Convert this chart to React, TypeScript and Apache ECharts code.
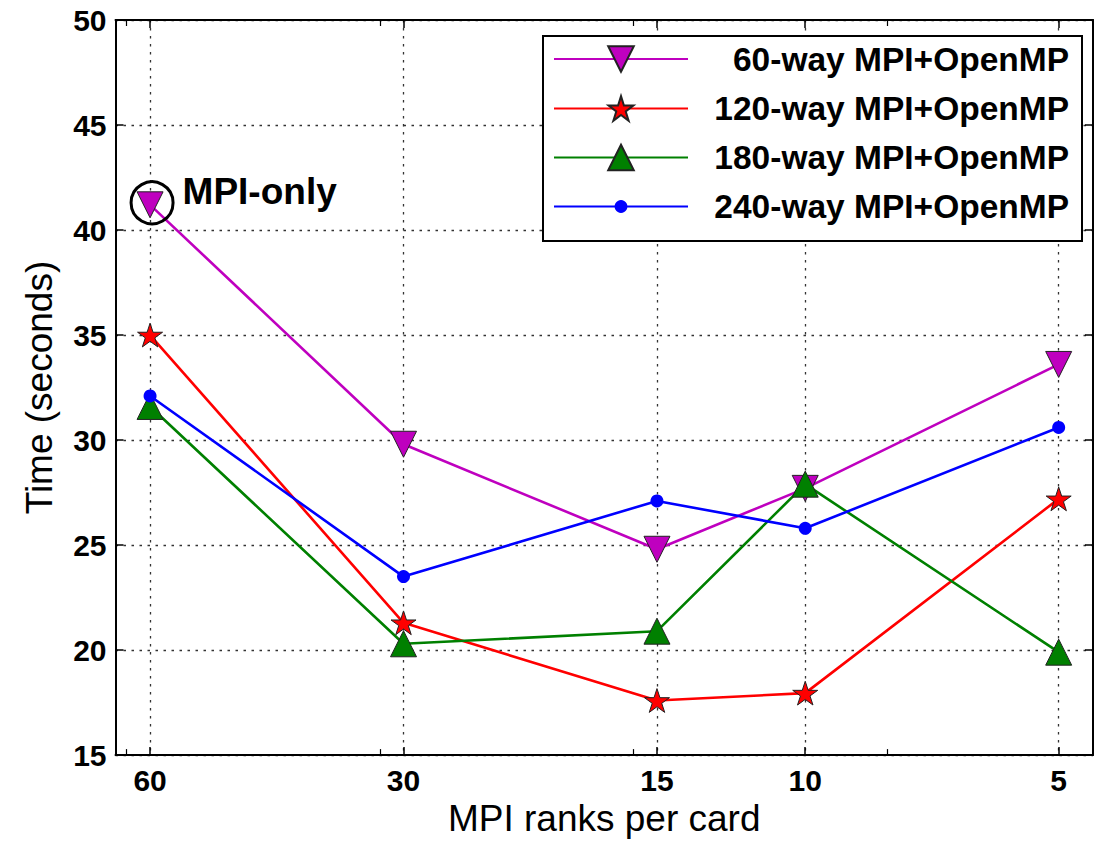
import React, { useEffect, useRef } from "react";
import * as echarts from "echarts";

// ---- data ----
const ranks = [60, 30, 15, 10, 5];
const minorTicks = [64, 32, 16, 8];
const seriesNames = [
  "60-way MPI+OpenMP",
  "120-way MPI+OpenMP",
  "180-way MPI+OpenMP",
  "240-way MPI+OpenMP",
];
const way60 = [41.2, 29.8, 24.8, 27.7, 33.6];
const way120 = [35.0, 21.3, 17.6, 17.95, 27.2];
const way180 = [31.6, 20.3, 20.9, 27.9, 19.9];
const way240 = [32.1, 23.5, 27.1, 25.8, 30.6];
const yTicks = [15, 20, 25, 30, 35, 40, 45, 50];
const annotationText = "MPI-only";

const FONT = "'Liberation Sans', Arial, Helvetica, sans-serif";
const STAR =
  "path://M50 0 L61.23 34.55 L97.55 34.55 L68.16 55.9 L79.39 90.45 L50 69.1 L20.61 90.45 L31.84 55.9 L2.45 34.55 L38.77 34.55 Z";

const pairs = (vals: number[]) => ranks.map((r, i) => [r, vals[i]]);

const dotted = { color: "#333", width: 1.3, type: [2.5, 5.5] as number[] };

export default function App() {
  const ref = useRef<HTMLDivElement>(null);
  useEffect(() => {
    if (!ref.current) return;
    const chart = echarts.init(ref.current, null, { renderer: "svg" });
    const xMin = 4.552;
    const xMax = 65.95;
    const baseLog = {
      type: "log" as const,
      logBase: 2,
      min: xMin,
      max: xMax,
      inverse: true,
    };
    const markerBorder = { borderColor: "#222", borderWidth: 1 };
    const legendRows = [61, 110.5, 159.5, 208.5];
    const legendItemH = [32, 31, 32, 16];
    const LW = 2.6;
    const option: any = {
      animation: false,
      backgroundColor: "#fff",
      grid: { left: 115.5, right: 6, top: 20, bottom: 80, containLabel: false },
      xAxis: [
        {
          ...baseLog,
          position: "bottom",
          axisLine: { show: true, onZero: false, lineStyle: { color: "#000", width: 2 } },
          axisTick: { show: true, inside: true, length: 8, customValues: ranks, lineStyle: { color: "#000", width: 1.5 } },
          axisLabel: {
            show: true,
            customValues: ranks,
            formatter: (v: number) => String(Math.round(v)),
            fontSize: 30,
            fontWeight: "bold",
            color: "#000",
            fontFamily: FONT,
            margin: 10,
          },
          splitLine: { show: true, lineStyle: dotted },
          name: "MPI ranks per card",
          nameLocation: "middle",
          nameGap: 39,
          nameTextStyle: { fontSize: 37, color: "#000", fontFamily: FONT },
        },
        {
          ...baseLog,
          position: "top",
          axisLine: { show: true, onZero: false, lineStyle: { color: "#000", width: 2 } },
          axisTick: { show: true, inside: true, length: 8, customValues: ranks, lineStyle: { color: "#000", width: 1.5 } },
          axisLabel: { show: false },
          splitLine: { show: false },
        },
        {
          ...baseLog,
          position: "bottom",
          axisLine: { show: false },
          axisTick: { show: true, inside: true, length: 6, customValues: minorTicks, lineStyle: { color: "#000", width: 1.2 } },
          axisLabel: { show: false },
          splitLine: { show: false },
        },
        {
          ...baseLog,
          position: "top",
          axisLine: { show: false },
          axisTick: { show: true, inside: true, length: 6, customValues: minorTicks, lineStyle: { color: "#000", width: 1.2 } },
          axisLabel: { show: false },
          splitLine: { show: false },
        },
      ],
      yAxis: [
        {
          type: "value",
          position: "left",
          min: yTicks[0],
          max: yTicks[yTicks.length - 1],
          interval: 5,
          axisLine: { show: true, onZero: false, lineStyle: { color: "#000", width: 2 } },
          axisTick: { show: true, inside: true, length: 8, lineStyle: { color: "#000", width: 1.5 } },
          axisLabel: { fontSize: 30, fontWeight: "bold", color: "#000", fontFamily: FONT, margin: 9 },
          splitLine: { show: true, lineStyle: dotted },
          name: "Time (seconds)",
          nameLocation: "middle",
          nameRotate: 90,
          nameGap: 58,
          nameTextStyle: { fontSize: 37, color: "#000", fontFamily: FONT },
        },
        {
          type: "value",
          position: "right",
          min: yTicks[0],
          max: yTicks[yTicks.length - 1],
          interval: 5,
          axisLine: { show: true, onZero: false, lineStyle: { color: "#000", width: 2 } },
          axisTick: { show: true, inside: true, length: 8, lineStyle: { color: "#000", width: 1.5 } },
          axisLabel: { show: false },
          splitLine: { show: false },
        },
      ],
      legend: seriesNames.map((n, i) => ({
        show: true,
        selectedMode: false,
        data: [n],
        left: 553,
        top: legendRows[i] - 19,
        padding: 0,
        itemWidth: 134,
        itemHeight: legendItemH[i],
        formatter: "{t|{name}}",
        textStyle: {
          rich: {
            t: {
              width: 376,
              align: "right",
              fontSize: 33.5,
              lineHeight: 38,
              fontWeight: "bold",
              color: "#000",
              fontFamily: FONT,
            },
          },
        },
      })),
      graphic: [
        {
          type: "rect",
          left: 542,
          top: 35,
          z: 3,
          shape: { width: 539, height: 205 },
          style: { fill: "#fff", stroke: "#000", lineWidth: 2 },
        },
      ],
      series: [
        {
          name: seriesNames[0],
          type: "line",
          data: pairs(way60),
          symbol: "triangle",
          symbolRotate: 180,
          symbolSize: 26,
          lineStyle: { color: "#bf00bf", width: LW },
          itemStyle: { color: "#bf00bf", ...markerBorder },
          markPoint: {
            symbol: "circle",
            symbolSize: 42,
            symbolOffset: [2, -2],
            itemStyle: { color: "rgba(0,0,0,0)", borderColor: "#000", borderWidth: 3 },
            label: {
              show: true,
              position: "right",
              distance: 8,
              offset: [0, -11],
              formatter: annotationText,
              fontSize: 37,
              fontWeight: "bold",
              color: "#000",
              fontFamily: FONT,
            },
            data: [{ coord: [ranks[0], way60[0]] }],
          },
        },
        {
          name: seriesNames[1],
          type: "line",
          data: pairs(way120),
          symbol: STAR,
          symbolSize: 25,
          symbolKeepAspect: true,
          lineStyle: { color: "#ff0000", width: LW },
          itemStyle: { color: "#ff0000", ...markerBorder },
        },
        {
          name: seriesNames[2],
          type: "line",
          data: pairs(way180),
          symbol: "triangle",
          symbolSize: 26,
          lineStyle: { color: "#008000", width: LW },
          itemStyle: { color: "#008000", ...markerBorder },
        },
        {
          name: seriesNames[3],
          type: "line",
          data: pairs(way240),
          symbol: "circle",
          symbolSize: 13,
          lineStyle: { color: "#0000ff", width: LW },
          itemStyle: { color: "#0000ff", borderWidth: 0 },
        },
      ],
    };
    chart.setOption(option);
    return () => chart.dispose();
  }, []);
  return (
    <div
      ref={ref}
      style={{ position: "fixed", left: 0, top: 0, width: 1099, height: 842 }}
    />
  );
}
